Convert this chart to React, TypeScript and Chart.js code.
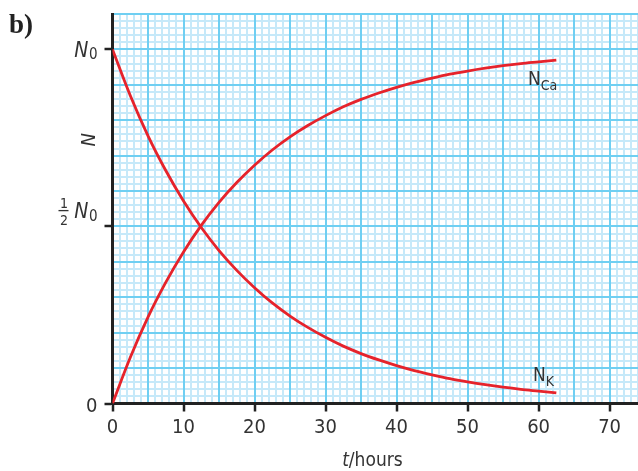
import React, { useEffect, useRef } from "react";
import { Chart, registerables } from "chart.js";

Chart.register(...registerables);

// time in hours
const tHours = [0, 2.5, 5, 7.5, 10, 12.5, 15, 17.5, 20, 22.5, 25, 27.5, 30, 32.5, 35, 37.5, 40, 42.5, 45, 47.5, 50, 52.5, 55, 57.5, 60, 62.5];
// N_K / N0 (decaying)
const nK = [1.0, 0.87, 0.756, 0.658, 0.572, 0.497, 0.432, 0.376, 0.327, 0.284, 0.247, 0.215, 0.187, 0.162, 0.141, 0.123, 0.107, 0.093, 0.081, 0.07, 0.061, 0.053, 0.046, 0.04, 0.035, 0.03];
// N_Ca / N0 (growing)
const nCa = [0, 0.13, 0.244, 0.342, 0.428, 0.503, 0.568, 0.624, 0.673, 0.716, 0.753, 0.785, 0.813, 0.838, 0.859, 0.877, 0.893, 0.907, 0.919, 0.93, 0.939, 0.947, 0.954, 0.96, 0.965, 0.97];
const xTickLabels = [0, 10, 20, 30, 40, 50, 60, 70];
const yTickValues = [0, 0.5, 1];

const FONT = '"DejaVu Sans Condensed", "DejaVu Sans", sans-serif';
const RED = "#e6232b";
const MAJOR = "#6fcff2";
const MINOR = "#c6e9f9";
const TEXT = "#333333";

const textPlugin = {
  id: "texts",
  afterDraw(chart: any) {
    const ctx = chart.ctx as CanvasRenderingContext2D;
    const xs = chart.scales.x;
    const ys = chart.scales.y;
    const ax = xs.getPixelForValue(0);
    ctx.save();
    ctx.fillStyle = TEXT;
    ctx.textBaseline = "alphabetic";

    // y tick labels
    const y0 = ys.getPixelForValue(yTickValues[0]);
    ctx.font = `20px ${FONT}`;
    ctx.textAlign = "right";
    ctx.fillText("0", ax - 15, y0 + 8);

    const yN = ys.getPixelForValue(yTickValues[2]);
    ctx.font = `italic 21px ${FONT}`;
    ctx.textAlign = "right";
    ctx.fillText("N", ax - 24, yN + 8);
    ctx.font = `15px ${FONT}`;
    ctx.fillText("0", ax - 15, yN + 10);

    const yH = ys.getPixelForValue(yTickValues[1]);
    ctx.font = `italic 21px ${FONT}`;
    ctx.fillText("N", ax - 24, yH - 8);
    ctx.font = `15px ${FONT}`;
    ctx.fillText("0", ax - 15, yH - 5);
    ctx.textAlign = "center";
    ctx.font = `14px ${FONT}`;
    ctx.fillText("1", ax - 48.5, yH - 18);
    ctx.fillText("2", ax - 48.5, yH - 1);
    ctx.fillRect(ax - 54, yH - 16.5, 10, 1.3);

    // y axis title (rotated N)
    ctx.save();
    ctx.translate(ax - 23, ys.getPixelForValue(0.745));
    ctx.rotate(-Math.PI / 2);
    ctx.font = `italic 20px ${FONT}`;
    ctx.textAlign = "center";
    ctx.textBaseline = "middle";
    ctx.fillText("N", 0, 0);
    ctx.restore();

    // x axis title
    ctx.font = `italic 19px ${FONT}`;
    const tW = ctx.measureText("t").width;
    ctx.font = `19px ${FONT}`;
    const rest = "/hours";
    const rW = ctx.measureText(rest).width;
    const cx = xs.getPixelForValue(36.6);
    const startX = cx - (tW + rW) / 2;
    ctx.textAlign = "left";
    ctx.font = `italic 19px ${FONT}`;
    ctx.fillText("t", startX, 466);
    ctx.font = `19px ${FONT}`;
    ctx.fillText(rest, startX + tW, 466);

    // curve labels
    ctx.font = `19px ${FONT}`;
    ctx.textAlign = "left";
    const caX = xs.getPixelForValue(58.5);
    const caY = ys.getPixelForValue(0.9);
    ctx.fillText("N", caX, caY);
    const nw = ctx.measureText("N").width;
    ctx.font = `14px ${FONT}`;
    ctx.fillText("Ca", caX + nw, caY + 5);

    ctx.font = `19px ${FONT}`;
    const kX = xs.getPixelForValue(59.2);
    const kY = ys.getPixelForValue(0.064);
    ctx.fillText("N", kX, kY);
    ctx.font = `14px ${FONT}`;
    ctx.fillText("K", kX + nw, kY + 5);

    // panel label
    ctx.font = `bold 27px "Liberation Serif", "DejaVu Serif", serif`;
    ctx.fillStyle = "#222";
    ctx.fillText("b)", 9, 33);
    ctx.restore();
  },
};

export default function App() {
  const ref = useRef<HTMLCanvasElement | null>(null);
  useEffect(() => {
    document.body.style.margin = "0";
    if (!ref.current) return;
    const chart = new Chart(ref.current, {
      type: "line",
      data: {
        datasets: [
          {
            label: "NK",
            data: tHours.map((t, i) => ({ x: t, y: nK[i] })),
            borderColor: RED,
            borderWidth: 2.8,
            pointRadius: 0,
            cubicInterpolationMode: "monotone",
            xAxisID: "x",
            yAxisID: "y",
          },
          {
            label: "NCa",
            data: tHours.map((t, i) => ({ x: t, y: nCa[i] })),
            borderColor: RED,
            borderWidth: 2.8,
            pointRadius: 0,
            cubicInterpolationMode: "monotone",
            xAxisID: "x",
            yAxisID: "y",
          },
        ],
      },
      options: {
        animation: false,
        responsive: false,
        layout: { padding: { top: 14, right: 0, left: 0, bottom: 0 } },
        plugins: { legend: { display: false }, tooltip: { enabled: false } },
        scales: {
          xMinor: {
            type: "linear",
            position: "bottom",
            min: 0,
            max: 74,
            z: -1,
            afterBuildTicks: (s: any) => {
              s.ticks = Array.from({ length: 75 }, (_, i) => ({ value: i }));
            },
            afterFit: (s: any) => {
              s.height = 0;
            },
            ticks: { display: false },
            grid: { color: MINOR, lineWidth: 2, drawTicks: false },
            border: { display: false },
          },
          yMinor: {
            type: "linear",
            position: "left",
            min: 0,
            max: 1.1,
            z: -1,
            afterBuildTicks: (s: any) => {
              s.ticks = Array.from({ length: 56 }, (_, i) => ({ value: i / 50 }));
            },
            afterFit: (s: any) => {
              s.width = 0;
            },
            ticks: { display: false },
            grid: { color: MINOR, lineWidth: 2, drawTicks: false },
            border: { display: false },
          },
          x: {
            type: "linear",
            position: "bottom",
            min: 0,
            max: 74,
            afterBuildTicks: (s: any) => {
              s.ticks = Array.from({ length: 15 }, (_, i) => ({ value: i * 5 }));
            },
            afterFit: (s: any) => {
              s.height = 67.5;
            },
            ticks: {
              autoSkip: false,
              maxRotation: 0,
              color: TEXT,
              font: { family: FONT, size: 20 },
              padding: 4,
              callback: (v: any) => (xTickLabels.includes(Number(v)) ? String(v) : ""),
            },
            grid: {
              color: MAJOR,
              lineWidth: 2,
              drawTicks: true,
              tickLength: 8,
              tickWidth: 2.5,
              tickColor: (c: any) => (c.tick && xTickLabels.includes(c.tick.value) ? "#222" : "rgba(0,0,0,0)"),
            },
            border: { display: true, color: "#222", width: 3 },
          },
          y: {
            type: "linear",
            position: "left",
            min: 0,
            max: 1.1,
            afterBuildTicks: (s: any) => {
              s.ticks = Array.from({ length: 12 }, (_, i) => ({ value: i / 10 }));
            },
            afterFit: (s: any) => {
              s.width = 112.5;
            },
            ticks: { display: false },
            grid: {
              color: MAJOR,
              lineWidth: 2,
              drawTicks: true,
              tickLength: 8,
              tickWidth: 2.5,
              tickColor: (c: any) =>
                c.tick && yTickValues.some((v) => Math.abs(v - c.tick.value) < 1e-6) ? "#222" : "rgba(0,0,0,0)",
            },
            border: { display: true, color: "#222", width: 3 },
          },
        },
      } as any,
      plugins: [textPlugin],
    });
    return () => chart.destroy();
  }, []);
  return <canvas ref={ref} width={638} height={471} style={{ display: "block" }} />;
}
